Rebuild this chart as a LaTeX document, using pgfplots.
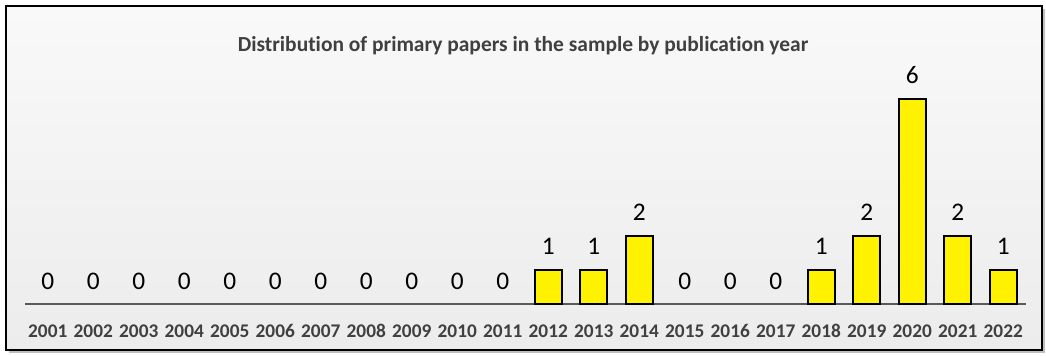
\documentclass[border=0pt]{standalone}
\usepackage{fontspec}
\setmainfont[Ligatures=NoCommon]{Carlito}
\usepackage{pgfplots}
\pgfplotsset{compat=1.18}
\definecolor{txt}{HTML}{404040}
\definecolor{basel}{HTML}{595959}
\definecolor{bgtop}{HTML}{F9F9F9}
\definecolor{bgbot}{HTML}{ECECEC}
\begin{document}
\begin{tikzpicture}[x=0.75pt,y=0.75pt]
\path (0,0) rectangle (1046,356);
% frame (image px coordinates, y from bottom)
\fill[gray!50] (9,3) rectangle (1045,347);
\shade[top color=bgtop,bottom color=bgbot,draw=black,line width=1.5pt] (6,6) rectangle (1042,350);
\node[font=\bfseries\fontsize{16.1}{19}\selectfont,text=txt] at (523,310) {Distribution of primary papers in the sample by publication year};
\begin{axis}[
  at={(25*0.75pt,52*0.75pt)}, anchor=south west,
  scale only axis, width=750.75pt, height=179.55pt,
  xmin=-0.5, xmax=21.5, ymin=0, ymax=7,
  axis x line*=bottom, axis y line=none,
  x axis line style={line width=2.2pt, color=basel, -},
  xtick={0,...,21}, xtick style={draw=none},
  xticklabels={2001,2002,2003,2004,2005,2006,2007,2008,2009,2010,2011,2012,2013,2014,2015,2016,2017,2018,2019,2020,2021,2022},
  xticklabel style={font=\bfseries\fontsize{14.5}{17}\selectfont, text=txt, text height=10pt, text depth=0pt, yshift=-7.5pt},
  /pgf/number format/assume math mode=true,
  ybar, bar width=0.6,
  nodes near coords,
  nodes near coords style={font=\fontsize{19}{22}\selectfont, text=black, yshift=7.5pt},
  clip=false,
]
\addplot[bar shift=0pt, fill=yellow, draw=black, line width=1.5pt] coordinates {
(11,1) (12,1) (13,2) (17,1) (18,2) (19,6) (20,2) (21,1)};
\addplot[bar shift=0pt, fill=none, draw=none] coordinates {
(0,0) (1,0) (2,0) (3,0) (4,0) (5,0) (6,0) (7,0) (8,0) (9,0) (10,0)
(14,0) (15,0) (16,0)};
\end{axis}
\end{tikzpicture}
\end{document}
